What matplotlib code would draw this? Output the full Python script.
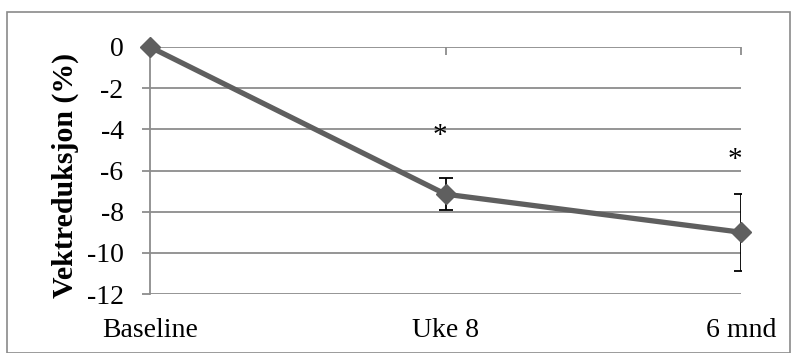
import matplotlib
matplotlib.use("Agg")
import matplotlib.pyplot as plt
from matplotlib.patches import Rectangle

categories = ["Baseline", "Uke 8", "6 mnd"]
values = [0.0, -7.15, -9.0]
errors = [0.0, 0.78, 1.88]
stars = ["", "*", "*"]
star_y = [None, -4.3, -5.5]
yticks = [0, -2, -4, -6, -8, -10, -12]

plt.rcParams['font.family'] = ['Liberation Serif', 'DejaVu Serif']

W, H = 791, 353
fig = plt.figure(figsize=(W / 100, H / 100), dpi=100)
fig.patch.set_facecolor("white")

# outer chart border
fig.add_artist(Rectangle((7 / W, 0.0), (790 - 7) / W, (H - 12) / H,
                         transform=fig.transFigure, fill=False,
                         edgecolor="#8a8a8a", linewidth=1.2))

left, right, top, bottom = 150, 741, 47, 294
ax = fig.add_axes([left / W, (H - bottom) / H, (right - left) / W, (bottom - top) / H])

x = list(range(len(categories)))
grid_c = "#8c8c8c"
for yv in yticks:
    ax.axhline(yv, color=grid_c, linewidth=1.3, zorder=1)

ax.errorbar(x, values, yerr=errors, fmt="none", ecolor="black",
            elinewidth=1.3, capsize=5, capthick=1.3, zorder=2)
ax.plot(x, values, color="#5f5f5f", linewidth=3.8, marker="D",
        markersize=10.5, markerfacecolor="#5f5f5f", markeredgecolor="#5f5f5f",
        zorder=3, clip_on=False)

for xi, s, sy in zip(x, stars, star_y):
    if s:
        ax.text(xi - 0.02, sy, s, ha="center", va="center", fontsize=21)

ax.set_xlim(0, 2)
ax.set_ylim(-12, 0)
ax.set_yticks(yticks)
ax.set_yticklabels([str(v) if v == 0 else "-" + str(abs(v)) for v in yticks])
ax.set_xticks(x)
ax.set_xticklabels(categories)

for s in ["top", "right", "bottom"]:
    ax.spines[s].set_visible(False)
ax.spines["left"].set_color(grid_c)
ax.spines["left"].set_linewidth(1.3)

ax.tick_params(axis="y", direction="out", length=6, width=1.3, color=grid_c,
               pad=13, labelsize=20)
ax.tick_params(axis="x", bottom=False, top=True, labelbottom=True, labeltop=False,
               direction="in", length=6, width=1.3, color=grid_c,
               pad=17, labelsize=20)

ax.set_ylabel("Vektreduksjon (%)", fontsize=21.5, fontweight="bold")
ax.yaxis.set_label_coords(-(150 - 79) / (right - left), 0.48)

fig.savefig("out.png", dpi=100, facecolor="white")
